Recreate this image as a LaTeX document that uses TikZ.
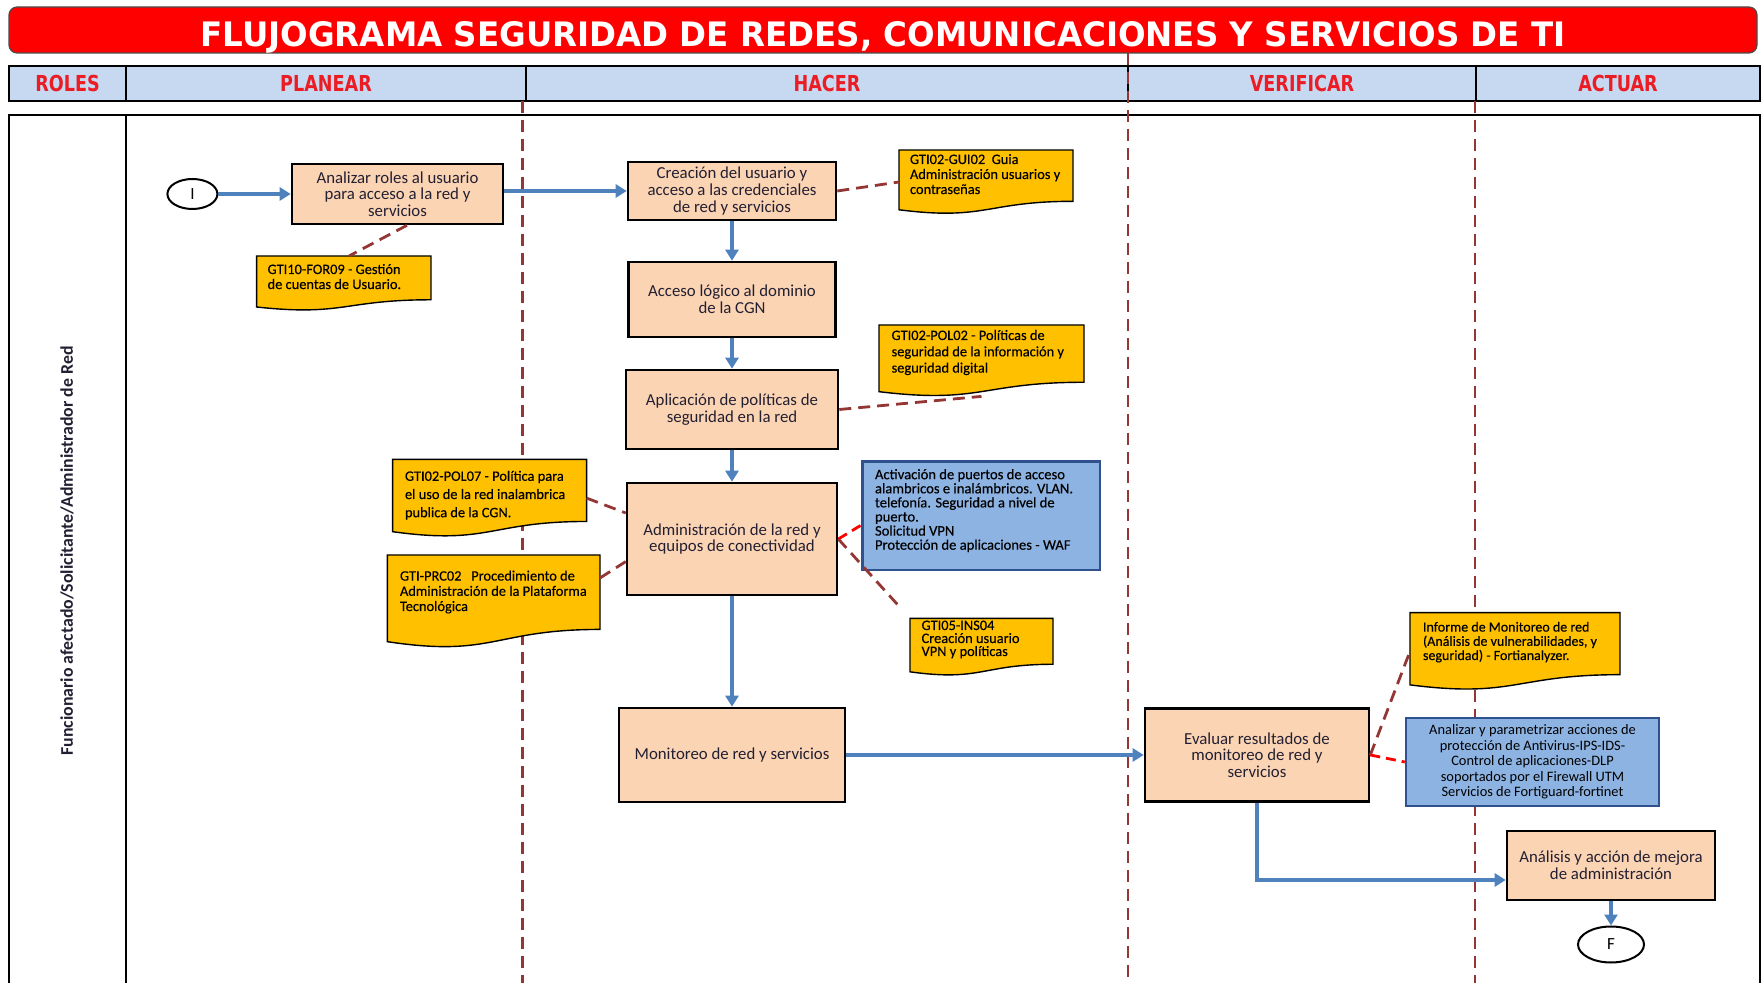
\documentclass[tikz,border=0pt]{standalone}
\usepackage{fontspec}
\setmainfont{Carlito}
\newfontfamily\hdrfont{DejaVu Sans}
\newfontfamily\docfont{Carlito}[FakeBold=0.3]
\usetikzlibrary{shapes.geometric,arrows.meta,calc}
\definecolor{peach}{RGB}{251,212,180}
\definecolor{docyel}{RGB}{255,192,0}
\definecolor{bluefill}{RGB}{141,179,226}
\definecolor{blueedge}{RGB}{47,82,143}
\definecolor{hdrblue}{RGB}{198,217,241}
\definecolor{lanered}{RGB}{148,54,52}
\definecolor{flowblue}{RGB}{79,129,189}
\definecolor{boxtext}{RGB}{35,31,50}
\definecolor{titlered}{RGB}{255,0,0}
\definecolor{hdrred}{RGB}{235,28,36}
\pgfdeclarelayer{background}
\pgfdeclarelayer{docs}
\pgfsetlayers{background,docs,main}
\newcommand\docshape[1]{%
  \begin{pgfonlayer}{docs}
    \draw[docline] (#1.north west) -- (#1.north east) -- ($(#1.north east)!0.802!(#1.south east)$)
      .. controls ($(#1.north)!0.802!(#1.south)$) and ($(#1.north)!1.1075!(#1.south)$) ..
      ($(#1.north west)!0.934!(#1.south west)$) -- cycle;
  \end{pgfonlayer}}
\newcommand\tbox[7]{\parbox[c][#2][t]{#1}{\docfont\fontsize{#5}{#6}\selectfont\raggedright\leftskip=#3\relax\rule{0pt}{#4}#7}}
\newcommand\hdrtxt[1]{\scalebox{0.8}[1]{#1}}
\tikzset{
  proc/.style={draw=black, line width=1.3pt, fill=peach, text=boxtext, align=center, inner sep=2pt,
    font={\fontsize{8.4}{8.3}\selectfont}},
  docnode/.style={inner sep=0pt, outer sep=0pt, text=black},
  docline/.style={draw=black, line width=0.7pt, fill=docyel},
  bbox/.style={draw=blueedge, line width=1.2pt, fill=bluefill, text=black, inner sep=0pt},
  term/.style={ellipse, draw=black, line width=1pt, fill=white, inner sep=0pt, font={\fontsize{8.5}{8.5}\selectfont}},
  hdrcell/.style={draw=black, line width=1.2pt, fill=hdrblue, text=hdrred, inner sep=0pt,
    minimum height=17.5pt, font={\hdrfont\fontsize{11}{11}\selectfont\bfseries}},
  flow/.style={draw=flowblue, line width=2pt, -{Triangle[length=5.5pt,width=6.5pt]}},
  refline/.style={draw=lanered, line width=1.4pt, dash pattern=on 6pt off 3.5pt},
  redline/.style={draw=red, line width=1.4pt, dash pattern=on 5pt off 3pt},
  lane/.style={draw=lanered, line width=1.3pt, dash pattern=on 6pt off 3.5pt}
}
\begin{document}
\begin{tikzpicture}[x=1pt,y=-1pt]
\useasboundingbox (0,0) rectangle (881.5,491.5);
\begin{pgfonlayer}{background}
  \node[fill=titlered, draw=gray!60!black, line width=0.6pt, rounded corners=4pt, minimum width=874pt,
    minimum height=23pt, inner sep=0pt, text=white, text height=12.5pt, text depth=0pt] (title) at (441.5,15)
    {\raisebox{-2.25pt}{\resizebox{682.5pt}{12.5pt}{\hdrfont\bfseries FLUJOGRAMA SEGURIDAD DE REDES, COMUNICACIONES Y SERVICIOS DE TI}}};
  \node[hdrcell, minimum width=58.5pt] (hroles) at (33.75,41.75) {\hdrtxt{ROLES}};
  \node[hdrcell, minimum width=200pt] (hplan) at (163,41.75) {\hdrtxt{PLANEAR}};
  \node[hdrcell, minimum width=301pt] (hhacer) at (413.5,41.75) {\hdrtxt{HACER}};
  \node[hdrcell, minimum width=174pt] (hver) at (651,41.75) {\hdrtxt{VERIFICAR}};
  \node[hdrcell, minimum width=142pt] (hact) at (809,41.75) {\hdrtxt{ACTUAR}};
  \draw[line width=1.1pt] (4.5,491.5) -- (4.5,57.5) -- (880,57.5) -- (880,491.5);
  \draw[line width=1.1pt] (63,57.5) -- (63,491.5);
  \draw[lane] (261.3,50.5) -- (261.3,491.5);
  \draw[lane] (564,26.5) -- (564,491.5);
  \draw[lane] (737.5,50.5) -- (737.5,491.5);
\end{pgfonlayer}

\node[rotate=90, text=boxtext, font={\bfseries\fontsize{8.9}{9}\selectfont}] (roltxt) at (33.5,275.5)
  {Funcionario afectado/Solicitante/Administrador de Red};

% process boxes
\node[term, minimum width=25pt, minimum height=15pt] (I) at (96.2,97) {I};
\node[proc, minimum width=105.5pt, minimum height=30pt] (b1) at (198.75,97) {Analizar roles al usuario\\para acceso a la red y\\servicios};
\node[proc, minimum width=104pt, minimum height=29pt] (b2) at (366,95.5) {Creación del usuario y\\acceso a las credenciales\\de red y servicios};
\node[proc, minimum width=103.5pt, minimum height=37.5pt] (b3) at (366,149.75) {Acceso lógico al dominio\\de la CGN};
\node[proc, minimum width=106pt, minimum height=39.5pt] (b4) at (366,204.75) {Aplicación de políticas de\\seguridad en la red};
\node[proc, minimum width=105pt, minimum height=56pt] (b5) at (366,269.5) {Administración de la red y\\equipos de conectividad};
\node[proc, minimum width=113pt, minimum height=47pt] (b6) at (366,377.5) {Monitoreo de red y servicios};
\node[proc, minimum width=112pt, minimum height=46.5pt] (b7) at (628.5,377.5) {Evaluar resultados de\\monitoreo de red y\\servicios};
\node[proc, minimum width=104pt, minimum height=34.5pt] (b8) at (805.5,432.75) {Análisis y acción de mejora\\de administración};
\node[term, minimum width=33pt, minimum height=18pt] (F) at (805.5,472.25) {F};

% documents
\node[docnode] (for) at (171.9,141.65) {\tbox{87.15pt}{27.3pt}{5.5pt}{9pt}{7.2}{7.5}{GTI10-FOR09 - Gestión\\de cuentas de Usuario.}};
\docshape{for}
\node[docnode] (gui) at (493,91) {\tbox{87pt}{32pt}{5.5pt}{7pt}{7.2}{7.5}{GTI02-GUI02\ \ Guia\\Administración usuarios y\\contraseñas}};
\docshape{gui}
\node[docnode] (pol02) at (490.75,180.35) {\tbox{102.5pt}{35.7pt}{6.3pt}{7.5pt}{7.2}{8.15}{GTI02-POL02 - Políticas de\\seguridad de la información y\\seguridad digital}};
\docshape{pol02}
\node[docnode] (pol07) at (244.8,249.05) {\tbox{97pt}{38.7pt}{6.2pt}{10.7pt}{7.2}{9.1}{GTI02-POL07 - Política para\\el uso de la red inalambrica\\publica de la CGN.}};
\docshape{pol07}
\node[docnode] (prc) at (246.85,300.7) {\tbox{106.3pt}{46.4pt}{6.3pt}{12.8pt}{7.2}{7.6}{GTI-PRC02\ \ \ Procedimiento de\\Administración de la Plataforma\\Tecnológica}};
\docshape{prc}
\node[docnode] (ins) at (490.75,323.5) {\tbox{71.5pt}{28.6pt}{5.8pt}{5.8pt}{7.2}{6.5}{GTI05-INS04\\Creación usuario\\VPN y políticas}};
\docshape{ins}
\node[docnode] (inf) at (757.5,325.65) {\tbox{105pt}{38.7pt}{6.5pt}{9.5pt}{7.0}{7.1}{Informe de Monitoreo de red\\(Análisis de vulnerabilidades, y\\seguridad) - Fortianalyzer.}};
\docshape{inf}

% blue boxes
\node[bbox] (act) at (490.65,257.9) {\tbox{118.7pt}{54.2pt}{6.2pt}{8.8pt}{7.3}{7.05}{Activación de puertos de acceso\\alambricos e inalámbricos. VLAN.\\telefonía. Seguridad a nivel de\\puerto.\\Solicitud VPN\\Protección de aplicaciones - WAF}};
\node[bbox, minimum width=126.5pt, minimum height=44pt, align=center, inner sep=1pt,
  font={\fontsize{7.2}{7.8}\selectfont}] (ana) at (766.25,381)
  {Analizar y parametrizar acciones de\\protección de Antivirus-IPS-IDS-\\Control de aplicaciones-DLP\\soportados por el Firewall UTM\\Servicios de Fortiguard-fortinet};

% flow arrows
\draw[flow] (I) -- (b1);
\draw[flow] (b1.east |- b2.west) -- (b2.west);
\draw[flow] (b2) -- (b3);
\draw[flow] (b3) -- (b4);
\draw[flow] (b4) -- (b5);
\draw[flow] (b5) -- (b6);
\draw[flow] (b6) -- (b7);
\draw[flow] (b7.south) |- ([yshift=-7.25pt]b8.west);
\draw[flow] (b8) -- (F);

% reference links
\draw[refline] ([xshift=4.75pt]b1.south) -- ([xshift=2.6pt]for.north);
\draw[refline] (b2.east) -- (gui.west);
\draw[refline] (b4.east) -- (pol02.south);
\draw[refline] (pol07.east) -- ([yshift=13pt]b5.west);
\draw[refline] ([yshift=11.7pt]prc.east) -- ([yshift=-11.3pt]b5.west);
\draw[redline] (b5.east) -- ([yshift=-4.6pt]act.west);
\draw[refline, shorten >=9pt] (b5.east) -- (ins.north west);
\draw[refline] (b7.east) -- (inf.west);
\draw[redline] (b7.east) -- (ana.west);
\end{tikzpicture}
\end{document}
